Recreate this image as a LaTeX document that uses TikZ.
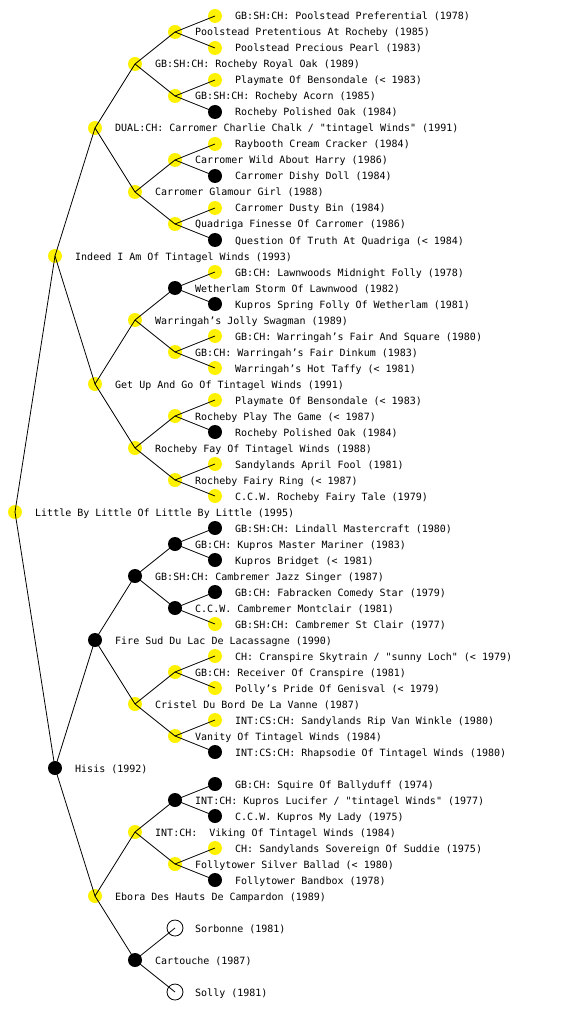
\documentclass[tikz,border=0pt]{standalone}
\usepackage{fontspec}
\newfontfamily\pmono{DejaVu Sans Mono}
\tikzset{
  pY/.style={circle, fill=yellow, minimum size=14pt, inner sep=0pt},
  pB/.style={circle, fill=black, minimum size=14pt, inner sep=0pt},
  pO/.style={circle, draw=black, fill=white, line width=0.8pt, minimum size=16pt, inner sep=0pt},
  ptxt/.style={inner sep=0pt, anchor=west, text height=8pt, text depth=0pt, font=\pmono\fontsize{10}{10}\selectfont},
  link/.style={draw=black, line width=0.8pt}
}
\newcommand\person[5]{%
  \node[#2] (#1) at (#3,#4) {};
  \node[ptxt] (#1-t) at (#3+20,#4) {#5};
}
\begin{document}
\begin{tikzpicture}[x=1pt,y=-1pt]
\useasboundingbox (0,0) rectangle (560,1024);
\fill[white] (0,0) rectangle (560,1024);
% generation 0
\person{r}{pY}{15}{512}{Little By Little Of Little By Little (1995)}
% generation 1
\person{a}{pY}{55}{256}{Indeed I Am Of Tintagel Winds (1993)}
\person{b}{pB}{55}{768}{Hisis (1992)}
% generation 2
\person{aa}{pY}{95}{128}{DUAL:CH: Carromer Charlie Chalk / "tintagel Winds" (1991)}
\person{ab}{pY}{95}{384}{Get Up And Go Of Tintagel Winds (1991)}
\person{ba}{pB}{95}{640}{Fire Sud Du Lac De Lacassagne (1990)}
\person{bb}{pY}{95}{896}{Ebora Des Hauts De Campardon (1989)}
% generation 3
\person{aaa}{pY}{135}{64}{GB:SH:CH: Rocheby Royal Oak (1989)}
\person{aab}{pY}{135}{192}{Carromer Glamour Girl (1988)}
\person{aba}{pY}{135}{320}{Warringah’s Jolly Swagman (1989)}
\person{abb}{pY}{135}{448}{Rocheby Fay Of Tintagel Winds (1988)}
\person{baa}{pB}{135}{576}{GB:SH:CH: Cambremer Jazz Singer (1987)}
\person{bab}{pY}{135}{704}{Cristel Du Bord De La Vanne (1987)}
\person{bba}{pY}{135}{832}{INT:CH:\ \ Viking Of Tintagel Winds (1984)}
\person{bbb}{pB}{135}{960}{Cartouche (1987)}
% generation 4
\person{aaaa}{pY}{175}{32}{Poolstead Pretentious At Rocheby (1985)}
\person{aaab}{pY}{175}{96}{GB:SH:CH: Rocheby Acorn (1985)}
\person{aaba}{pY}{175}{160}{Carromer Wild About Harry (1986)}
\person{aabb}{pY}{175}{224}{Quadriga Finesse Of Carromer (1986)}
\person{abaa}{pB}{175}{288}{Wetherlam Storm Of Lawnwood (1982)}
\person{abab}{pY}{175}{352}{GB:CH: Warringah’s Fair Dinkum (1983)}
\person{abba}{pY}{175}{416}{Rocheby Play The Game (< 1987)}
\person{abbb}{pY}{175}{480}{Rocheby Fairy Ring (< 1987)}
\person{baaa}{pB}{175}{544}{GB:CH: Kupros Master Mariner (1983)}
\person{baab}{pB}{175}{608}{C.C.W. Cambremer Montclair (1981)}
\person{baba}{pY}{175}{672}{GB:CH: Receiver Of Cranspire (1981)}
\person{babb}{pY}{175}{736}{Vanity Of Tintagel Winds (1984)}
\person{bbaa}{pB}{175}{800}{INT:CH: Kupros Lucifer / "tintagel Winds" (1977)}
\person{bbab}{pY}{175}{864}{Follytower Silver Ballad (< 1980)}
\person{bbba}{pO}{175}{928}{Sorbonne (1981)}
\person{bbbb}{pO}{175}{992}{Solly (1981)}
% generation 5
\person{aaaaa}{pY}{215}{16}{GB:SH:CH: Poolstead Preferential (1978)}
\person{aaaab}{pY}{215}{48}{Poolstead Precious Pearl (1983)}
\person{aaaba}{pY}{215}{80}{Playmate Of Bensondale (< 1983)}
\person{aaabb}{pB}{215}{112}{Rocheby Polished Oak (1984)}
\person{aabaa}{pY}{215}{144}{Raybooth Cream Cracker (1984)}
\person{aabab}{pB}{215}{176}{Carromer Dishy Doll (1984)}
\person{aabba}{pY}{215}{208}{Carromer Dusty Bin (1984)}
\person{aabbb}{pB}{215}{240}{Question Of Truth At Quadriga (< 1984)}
\person{abaaa}{pY}{215}{272}{GB:CH: Lawnwoods Midnight Folly (1978)}
\person{abaab}{pB}{215}{304}{Kupros Spring Folly Of Wetherlam (1981)}
\person{ababa}{pY}{215}{336}{GB:CH: Warringah’s Fair And Square (1980)}
\person{ababb}{pY}{215}{368}{Warringah’s Hot Taffy (< 1981)}
\person{abbaa}{pY}{215}{400}{Playmate Of Bensondale (< 1983)}
\person{abbab}{pB}{215}{432}{Rocheby Polished Oak (1984)}
\person{abbba}{pY}{215}{464}{Sandylands April Fool (1981)}
\person{abbbb}{pY}{215}{496}{C.C.W. Rocheby Fairy Tale (1979)}
\person{baaaa}{pB}{215}{528}{GB:SH:CH: Lindall Mastercraft (1980)}
\person{baaab}{pB}{215}{560}{Kupros Bridget (< 1981)}
\person{baaba}{pB}{215}{592}{GB:CH: Fabracken Comedy Star (1979)}
\person{baabb}{pY}{215}{624}{GB:SH:CH: Cambremer St Clair (1977)}
\person{babaa}{pY}{215}{656}{CH: Cranspire Skytrain / "sunny Loch" (< 1979)}
\person{babab}{pY}{215}{688}{Polly’s Pride Of Genisval (< 1979)}
\person{babba}{pY}{215}{720}{INT:CS:CH: Sandylands Rip Van Winkle (1980)}
\person{babbb}{pB}{215}{752}{INT:CS:CH: Rhapsodie Of Tintagel Winds (1980)}
\person{bbaaa}{pB}{215}{784}{GB:CH: Squire Of Ballyduff (1974)}
\person{bbaab}{pB}{215}{816}{C.C.W. Kupros My Lady (1975)}
\person{bbaba}{pY}{215}{848}{CH: Sandylands Sovereign Of Suddie (1975)}
\person{bbabb}{pB}{215}{880}{Follytower Bandbox (1978)}
% connectors (drawn over the circles)
\foreach \p/\c in {r/a,r/b,
  a/aa,a/ab,b/ba,b/bb,
  aa/aaa,aa/aab,ab/aba,ab/abb,ba/baa,ba/bab,bb/bba,bb/bbb,
  aaa/aaaa,aaa/aaab,aab/aaba,aab/aabb,aba/abaa,aba/abab,abb/abba,abb/abbb,
  baa/baaa,baa/baab,bab/baba,bab/babb,bba/bbaa,bba/bbab,bbb/bbba,bbb/bbbb,
  aaaa/aaaaa,aaaa/aaaab,aaab/aaaba,aaab/aaabb,aaba/aabaa,aaba/aabab,aabb/aabba,aabb/aabbb,
  abaa/abaaa,abaa/abaab,abab/ababa,abab/ababb,abba/abbaa,abba/abbab,abbb/abbba,abbb/abbbb,
  baaa/baaaa,baaa/baaab,baab/baaba,baab/baabb,baba/babaa,baba/babab,babb/babba,babb/babbb,
  bbaa/bbaaa,bbaa/bbaab,bbab/bbaba,bbab/bbabb}
  \draw[link] (\p.center) -- (\c.center);
\end{tikzpicture}
\end{document}
